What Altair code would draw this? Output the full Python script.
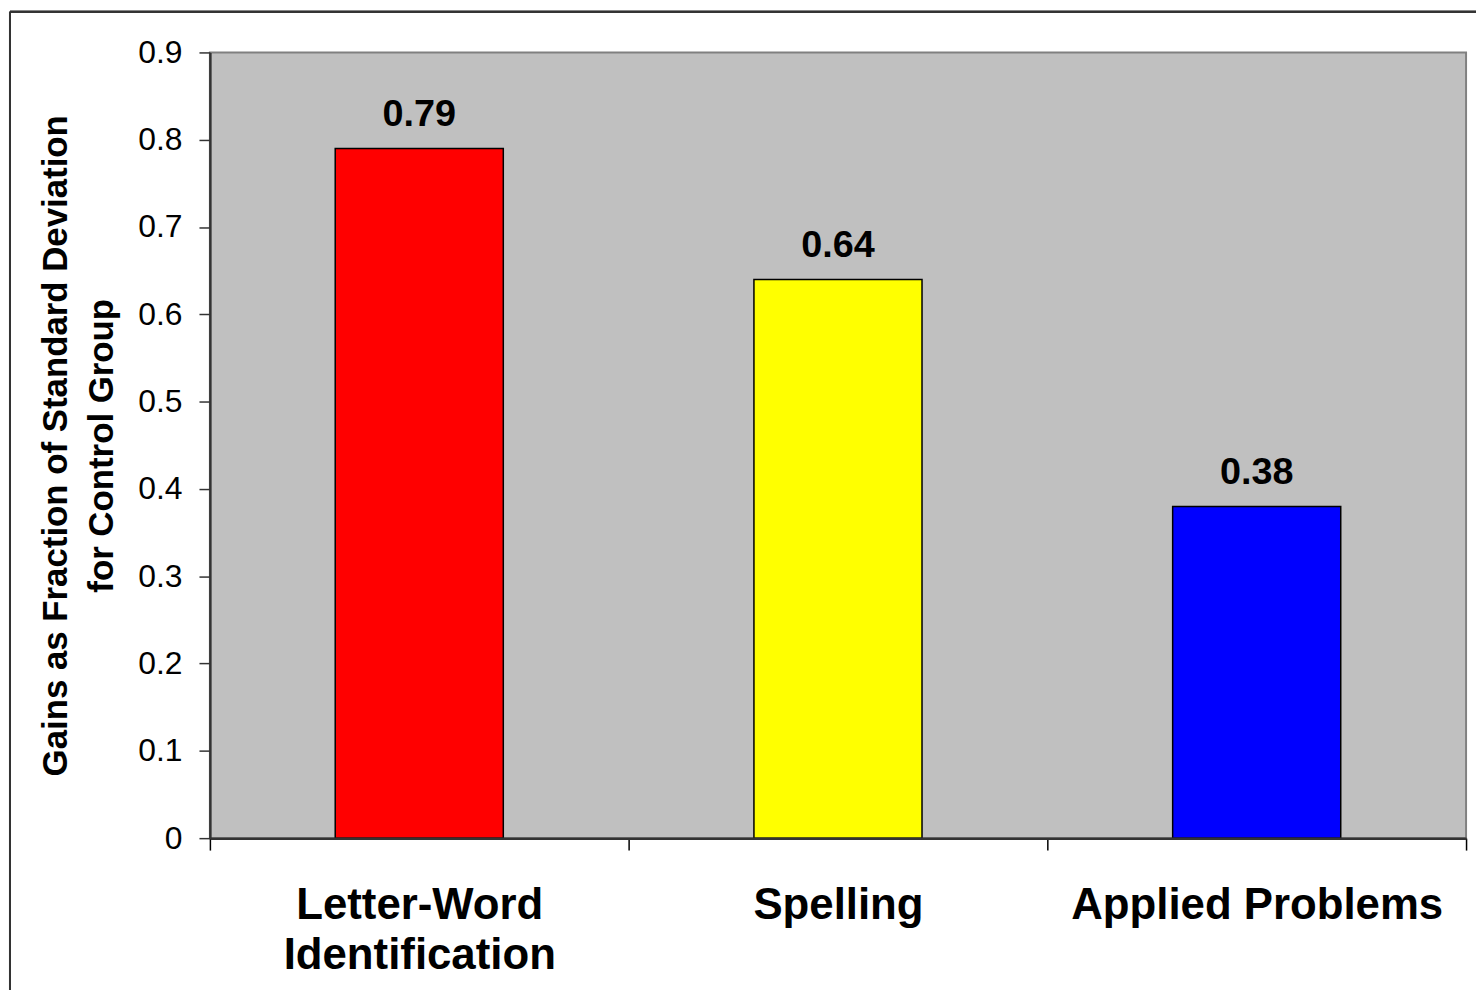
import altair as alt
import pandas as pd

categories = ["Letter-Word Identification", "Spelling", "Applied Problems"]
values = [0.79, 0.64, 0.38]
colors = ["#FF0000", "#FFFF00", "#0000FF"]
y_ticks = [0, 0.1, 0.2, 0.3, 0.4, 0.5, 0.6, 0.7, 0.8, 0.9]
y_title = ["Gains as Fraction of Standard Deviation", "for Control Group"]

df = pd.DataFrame({"cat": categories, "val": values, "color": colors,
                   "lbl": [f"{v:.2f}" for v in values]})

FONT = "Liberation Sans"

x_enc = alt.X(
    "cat:N", sort=categories, title=None,
    scale=alt.Scale(paddingInner=0, paddingOuter=0),
    axis=alt.Axis(
        labelAngle=0, labelFont=FONT, labelFontSize=44, labelFontWeight="bold",
        labelColor="#000000", labelLineHeight=50, labelPadding=34, labelLimit=0,
        labelExpr="datum.label == 'Letter-Word Identification' ? ['Letter-Word', 'Identification'] : datum.label",
        tickBand="extent", tickSize=12, tickColor="#000000", tickWidth=1.5,
        domainColor="#333333", domainWidth=2.5, grid=False, zindex=1,
    ),
)

y_enc = alt.Y(
    "val:Q", title=y_title,
    scale=alt.Scale(domain=[0, 0.9], nice=False, zero=True),
    axis=alt.Axis(
        values=y_ticks, format="~f", labelFont=FONT, labelFontSize=32,
        labelColor="#000000", labelPadding=17, tickSize=11, tickColor="#333333",
        tickWidth=1.5, domainColor="#333333", domainWidth=2.5, grid=False,
        titleFont=FONT, titleFontSize=35, titleFontWeight="bold", titleColor="#000000",
        titleLineHeight=46, titleX=-137, titleY=395, titleAngle=270,
        titleAlign="center", titleBaseline="bottom", zindex=1,
    ),
)

bars = alt.Chart(df).mark_bar(size=169, stroke="#000000", strokeWidth=1.5).encode(
    x=x_enc, y=y_enc,
    color=alt.Color("color:N", scale=None, legend=None),
)

labels = alt.Chart(df).mark_text(
    font=FONT, fontSize=38, fontWeight="bold", color="#000000",
    baseline="alphabetic", dy=-23,
).encode(x=alt.X("cat:N", sort=categories), y="val:Q", text="lbl:N")

border_left = alt.Chart(df).mark_rule(color="#333333", strokeWidth=2).encode(
    x=alt.value(-201), y=alt.value(-41), y2=alt.value(1000),
)
border_top = alt.Chart(df).mark_rule(color="#333333", strokeWidth=2).encode(
    x=alt.value(-201), x2=alt.value(1400), y=alt.value(-41),
)

chart = alt.layer(border_left, border_top, bars, labels).properties(
    width=1263, height=790,
    autosize=alt.AutoSizeParams(type="none"),
    padding={"left": 203, "top": 42, "right": 10, "bottom": 150},
    background="#FFFFFF",
).configure_view(
    fill="#C0C0C0", stroke="#808080", strokeWidth=2,
)

chart.save("out.html", embed_options={"renderer": "svg", "actions": False})
